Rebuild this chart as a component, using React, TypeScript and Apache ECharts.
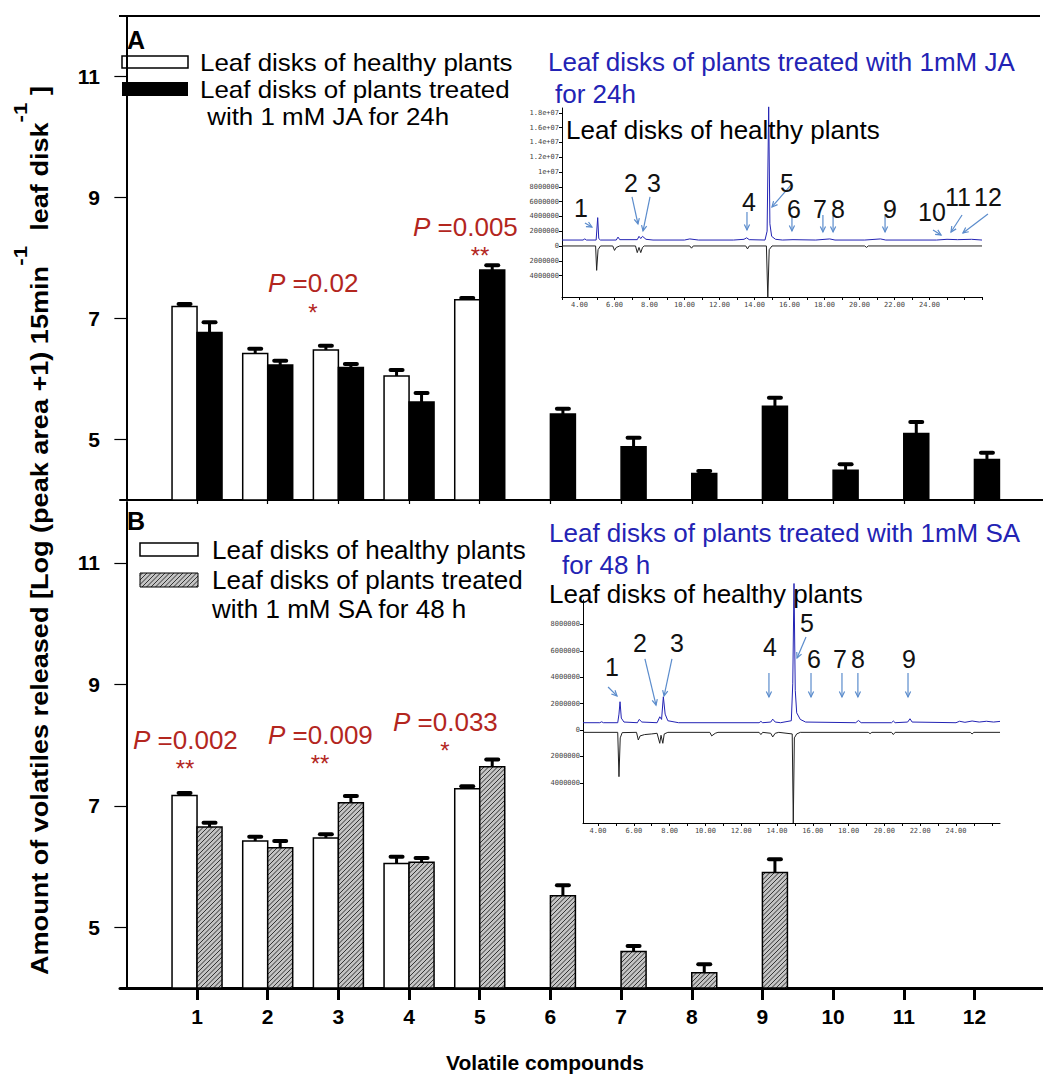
import React, { useEffect, useRef } from 'react';
import * as echarts from 'echarts';

// ---------- data ----------
const categories = [1, 2, 3, 4, 5, 6, 7, 8, 9, 10, 11, 12];
const yTickValues = [5, 7, 9, 11];

// Panel A (JA, 24h)
const jaHealthy = [7.2, 6.42, 6.48, 6.05, 7.31];
const jaHealthyErr = [0.04, 0.08, 0.07, 0.1, 0.03];
const jaTreated = [6.77, 6.23, 6.19, 5.62, 7.8, 5.42, 4.88, 4.44, 5.55, 4.49, 5.1, 4.67];
const jaTreatedErr = [0.17, 0.07, 0.06, 0.15, 0.08, 0.09, 0.15, 0.04, 0.14, 0.1, 0.19, 0.11];

// Panel B (SA, 48h)
const saHealthy = [7.17, 6.42, 6.47, 6.05, 7.28];
const saHealthyErr = [0.04, 0.07, 0.06, 0.11, 0.04];
const saTreated = [6.65, 6.31, 7.05, 6.07, 7.64, 5.52, 4.6, 4.25, 5.9];
const saTreatedErr = [0.07, 0.11, 0.11, 0.07, 0.12, 0.17, 0.09, 0.14, 0.22];

// Inset chromatograms (time in min, abundance in millions)
const jaChromTreated = [
  [3.0, 0.8], [4.2, 0.8], [4.3, 0.95], [4.4, 0.8], [4.95, 0.8], [5.04, 3.83], [5.1, 1.0], [5.2, 0.8],
  [6.1, 0.8], [6.2, 1.2], [6.3, 0.85], [7.3, 0.85], [7.4, 1.3], [7.5, 1.0], [7.6, 1.3], [7.8, 0.9],
  [8.2, 0.8], [10.0, 0.8], [10.3, 0.95], [10.8, 0.8], [12.8, 0.8], [13.4, 0.9], [13.55, 1.1], [13.7, 0.85],
  [14.6, 0.8], [14.72, 2.0], [14.81, 18.8], [14.88, 3.0], [14.98, 1.3], [15.2, 0.9], [15.6, 0.8],
  [16.2, 0.85], [17.5, 0.8], [18.3, 0.95], [18.6, 0.8], [20.3, 0.8], [21.2, 0.95], [21.5, 0.8],
  [24.4, 0.8], [25.0, 0.9], [25.6, 0.85], [26.4, 0.9], [27.0, 0.8],
];
const jaChromHealthy = [
  [3.0, 0], [4.92, 0], [4.98, -3.3], [5.06, -0.5], [5.2, 0], [5.9, 0], [6.0, -0.6], [6.1, -0.2], [6.3, 0],
  [7.2, 0], [7.3, -0.9], [7.4, -0.2], [7.5, -0.9], [7.6, -0.2], [7.7, 0], [10.3, 0], [10.4, -0.3], [10.5, 0],
  [13.5, 0], [13.6, -0.4], [13.7, 0], [14.68, 0], [14.76, -7.0], [14.84, -0.5], [15.0, 0],
  [20.3, 0], [20.4, -0.2], [20.5, 0], [27.0, 0],
];
const saChromTreated = [
  [3.16, 0.55], [4.1, 0.55], [4.2, 0.62], [4.3, 0.55], [5.1, 0.55], [5.17, 1.2], [5.23, 2.14], [5.3, 0.9],
  [5.45, 0.6], [6.2, 0.55], [6.3, 0.8], [6.45, 0.6], [7.3, 0.55], [7.45, 1.0], [7.55, 0.8], [7.65, 2.52],
  [7.75, 1.2], [7.9, 0.7], [8.3, 0.6], [8.5, 0.55], [13.0, 0.55], [13.1, 0.65], [13.2, 0.55], [13.65, 0.6],
  [13.76, 0.82], [13.9, 0.6], [14.2, 0.55], [14.8, 0.7], [14.88, 3.5], [14.95, 11.1], [15.02, 3.0],
  [15.1, 1.3], [15.3, 0.8], [15.6, 0.6], [18.4, 0.55], [18.55, 0.72], [18.7, 0.55], [20.4, 0.55],
  [20.5, 0.68], [20.6, 0.55], [21.3, 0.6], [21.43, 0.85], [21.55, 0.6], [24.0, 0.55], [24.2, 0.66],
  [24.5, 0.58], [24.9, 0.68], [25.3, 0.6], [25.7, 0.66], [26.1, 0.6], [26.46, 0.65],
];
const saChromHealthy = [
  [3.16, -0.18], [5.1, -0.18], [5.17, -3.54], [5.24, -0.6], [5.35, -0.2], [6.15, -0.18], [6.25, -0.76],
  [6.35, -0.45], [6.6, -0.35], [7.0, -0.3], [7.3, -0.25], [7.45, -1.01], [7.52, -0.4], [7.62, -1.01],
  [7.7, -0.3], [7.9, -0.18], [10.25, -0.18], [10.35, -0.45], [10.55, -0.25], [10.7, -0.18], [13.0, -0.18],
  [13.1, -0.35], [13.2, -0.18], [13.65, -0.25], [13.76, -0.53], [13.9, -0.25], [14.1, -0.18],
  [14.85, -0.3], [14.91, -7.05], [14.97, -0.6], [15.1, -0.3], [15.3, -0.18], [19.1, -0.18], [19.2, -0.28],
  [19.3, -0.18], [20.4, -0.18], [20.5, -0.35], [20.6, -0.18], [24.8, -0.18], [24.9, -0.3], [25.0, -0.18],
  [26.46, -0.18],
];

// peak annotations: label, label position, arrow start, arrow end (inset data coords)
const jaPeakLabels = ['1', '2', '3', '4', '5', '6', '7', '8', '9', '10', '11', '12'];
const jaPeakText = [[4.09, 5.13], [6.94, 8.51], [8.26, 8.51], [13.69, 5.94], [15.86, 8.51], [16.26, 5.0], [17.74, 5.0], [18.77, 5.0], [21.74, 5.0], [24.14, 4.59], [25.63, 6.62], [27.34, 6.62]];
const jaArrowFrom = [[4.31, 3.11], [7.0, 6.62], [8.03, 6.62], [13.57, 4.59], [16.14, 8.38], [16.14, 3.92], [17.91, 4.19], [18.49, 4.19], [21.46, 4.19], [24.2, 2.16], [25.86, 4.19], [27.34, 4.32]];
const jaArrowTo = [[4.71, 2.57], [7.34, 2.97], [7.63, 2.03], [13.57, 2.16], [15.0, 5.27], [16.14, 2.03], [17.91, 1.89], [18.49, 1.89], [21.46, 1.89], [24.66, 1.49], [25.23, 1.89], [25.91, 1.76]];

const saPeakLabels = ['1', '2', '3', '4', '5', '6', '7', '8', '9'];
const saPeakText = [[4.78, 4.77], [6.34, 6.59], [8.41, 6.59], [13.61, 6.29], [15.67, 8.11], [16.07, 5.38], [17.52, 5.38], [18.52, 5.38], [21.37, 5.38]];
const saArrowFrom = [[4.56, 3.26], [6.62, 5.38], [8.13, 5.38], [13.55, 4.32], [15.62, 7.05], [15.9, 4.32], [17.63, 4.32], [18.52, 4.32], [21.32, 4.32]];
const saArrowTo = [[5.06, 2.58], [7.24, 1.89], [7.69, 2.58], [13.55, 2.5], [15.12, 5.45], [15.9, 2.5], [17.63, 2.5], [18.52, 2.5], [21.32, 2.5]];

const insetXLabels = [4, 6, 8, 10, 12, 14, 16, 18, 20, 22, 24];
const jaInsetYLabels = [-4, -2, 0, 2, 4, 6, 8, 10, 12, 14, 16, 18];
const saInsetYLabels = [-4, -2, 0, 2, 4, 6, 8];
const insetMinorTicks = [3, 4, 5, 6, 7, 8, 9, 10, 11, 12, 13, 14, 15, 16, 17, 18, 19, 20, 21, 22, 23, 24, 25, 26, 27];

const yTitleParts = ['Amount of volatiles released [Log (peak area +1) 15min', '-1', '  leaf disk', '-1', ' ]'];

// ---------- styling constants ----------
const FONT = '"Liberation Sans", Arial, Helvetica, sans-serif';
const RED = '#b3261e';
const BLUE = '#2323b4';
const ARROW = '#5b8ccc';
const BAR_W = 25;
const X_MIN = -0.09;
const X_MAX = 12.97;
const Y_MIN = 4;
const Y_MAX = 12;
const TXT = 26;

function hatch(x0: number, y0: number, w: number, h: number, step: number) {
  const x1 = x0 + w;
  const y1 = y0 + h;
  const out: any[] = [];
  const start = Math.ceil((x0 + y0) / step) * step;
  for (let c = start; c < x1 + y1; c += step) {
    const xa = Math.max(x0, c - y1);
    const xb = Math.min(x1, c - y0);
    if (xb > xa) {
      out.push({ type: 'line', shape: { x1: xa, y1: c - xa, x2: xb, y2: c - xb }, style: { stroke: '#333', lineWidth: 1 } });
    }
  }
  return out;
}

function barRenderer(side: 'left' | 'right', kind: 'white' | 'black' | 'hatch') {
  return (params: any, api: any) => {
    const cat = api.value(0);
    const val = api.value(1);
    const err = api.value(2);
    const base = api.coord([cat, Y_MIN]);
    const top = api.coord([cat, val]);
    const cap = api.coord([cat, val + err]);
    const x0 = side === 'left' ? base[0] - BAR_W : base[0];
    const cx = x0 + BAR_W / 2;
    const h = base[1] - top[1];
    const children: any[] = [];
    children.push({ type: 'rect', shape: { x: x0, y: top[1], width: BAR_W, height: h }, style: { fill: kind === 'black' ? '#000' : kind === 'hatch' ? '#c4c4c4' : '#fff' } });
    if (kind === 'hatch') children.push(...hatch(x0, top[1], BAR_W, h, 4.5));
    children.push({ type: 'rect', shape: { x: x0, y: top[1], width: BAR_W, height: h }, style: { fill: 'none', stroke: '#000', lineWidth: 1.5 } });
    children.push({ type: 'line', shape: { x1: cx, y1: top[1], x2: cx, y2: cap[1] }, style: { stroke: '#000', lineWidth: 3 } });
    children.push({ type: 'line', shape: { x1: cx - 6, y1: cap[1], x2: cx + 6, y2: cap[1] }, style: { stroke: '#000', lineWidth: 4, lineCap: 'round' } });
    return { type: 'group', children };
  };
}

function annotRenderer(labels: string[]) {
  return (params: any, api: any) => {
    const t = api.coord([api.value(0), api.value(1)]);
    const a = api.coord([api.value(2), api.value(3)]);
    const b = api.coord([api.value(4), api.value(5)]);
    const dx = b[0] - a[0];
    const dy = b[1] - a[1];
    const len = Math.sqrt(dx * dx + dy * dy) || 1;
    const ux = dx / len;
    const uy = dy / len;
    const hl = 6;
    const ang = 0.45;
    const cos = Math.cos(ang);
    const sin = Math.sin(ang);
    const l1 = [b[0] - hl * (ux * cos - uy * sin), b[1] - hl * (uy * cos + ux * sin)];
    const l2 = [b[0] - hl * (ux * cos + uy * sin), b[1] - hl * (uy * cos - ux * sin)];
    return {
      type: 'group',
      children: [
        { type: 'line', shape: { x1: a[0], y1: a[1], x2: b[0], y2: b[1] }, style: { stroke: ARROW, lineWidth: 1.2 } },
        { type: 'polyline', shape: { points: [l1, b, l2] }, style: { stroke: ARROW, lineWidth: 1.2, fill: 'none' } },
        { type: 'text', x: t[0], y: t[1], style: { text: labels[params.dataIndex], fill: '#111', fontSize: 25, fontFamily: FONT, align: 'center', verticalAlign: 'middle' } },
      ],
    };
  };
}

function insetYFormatter(v: number) {
  const a = Math.abs(Math.round(v * 1e6));
  if (a >= 1e7) {
    const m = a / 1e7;
    return (Number.isInteger(m) ? m.toFixed(0) : m.toFixed(1)) + 'e+07';
  }
  return String(a);
}

function pText(x: number, y: number, value: string) {
  return {
    type: 'text', x, y, z: 10,
    style: {
      text: '{i|P}{r| =' + value + '}',
      verticalAlign: 'middle',
      rich: {
        i: { fontStyle: 'italic', fontSize: TXT, fill: RED, color: RED, fontFamily: FONT },
        r: { fontSize: TXT, fill: RED, color: RED, fontFamily: FONT },
      },
    },
  };
}
function star(x: number, y: number, s: string) {
  return { type: 'text', x, y, z: 10, style: { text: s, fill: RED, fontSize: 24, fontFamily: FONT, align: 'center', verticalAlign: 'middle' } };
}
function plainText(x: number, y: number, s: string, size: number, color: string, extra: any = {}, el: any = {}) {
  return { type: 'text', x, y, z: 10, ...el, style: { text: s, fill: color, fontSize: size, fontFamily: FONT, verticalAlign: 'middle', ...extra } };
}

function mainXAxis(gridIndex: number, bottomPanel: boolean) {
  return {
    type: 'value', gridIndex, min: X_MIN, max: X_MAX,
    axisLine: { show: true, onZero: false, lineStyle: { color: '#000', width: bottomPanel ? 3 : 2 } },
    axisTick: { show: true, customValues: categories, length: bottomPanel ? 12 : 4, lineStyle: { color: '#000', width: bottomPanel ? 3 : 1.2 } },
    axisLabel: bottomPanel
      ? { show: true, customValues: categories, fontSize: 21, fontWeight: 'bold', color: '#000', fontFamily: FONT, margin: 18 }
      : { show: false },
    splitLine: { show: false },
  };
}
function mainYAxis(gridIndex: number) {
  return {
    type: 'value', gridIndex, min: Y_MIN, max: Y_MAX,
    axisLine: { show: true, lineStyle: { color: '#000', width: 2 } },
    axisTick: { show: true, customValues: yTickValues, length: 12, lineStyle: { color: '#000', width: 1.2 } },
    axisLabel: { show: true, customValues: yTickValues, fontSize: 21, fontWeight: 'bold', color: '#000', fontFamily: FONT, margin: 20 },
    splitLine: { show: false },
  };
}
function insetXAxis(gridIndex: number, min: number, max: number) {
  return {
    type: 'value', gridIndex, min, max,
    axisLine: { show: true, onZero: false, lineStyle: { color: '#000', width: 1 } },
    axisTick: { show: true, customValues: insetMinorTicks.filter((v) => v >= min && v <= max), length: 3, lineStyle: { color: '#000', width: 1 } },
    axisLabel: { show: true, customValues: insetXLabels, formatter: (v: number) => v.toFixed(2), fontSize: 7, color: '#444', fontFamily: '"DejaVu Sans Mono", monospace', margin: 4 },
    splitLine: { show: false },
  };
}
function insetYAxis(gridIndex: number, min: number, max: number, labels: number[]) {
  return {
    type: 'value', gridIndex, min, max,
    axisLine: { show: true, onZero: false, lineStyle: { color: '#000', width: 1 } },
    axisTick: { show: true, customValues: labels, length: 3, lineStyle: { color: '#000', width: 1 } },
    axisLabel: { show: true, customValues: labels, formatter: insetYFormatter, fontSize: 7, color: '#444', fontFamily: '"DejaVu Sans Mono", monospace', margin: 3 },
    splitLine: { show: false },
  };
}

function toBarData(vals: number[], errs: number[]) {
  return vals.map((v, i) => [categories[i], v, errs[i]]);
}
function toAnnotData(text: number[][], from: number[][], to: number[][]) {
  return text.map((t, i) => [t[0], t[1], from[i][0], from[i][1], to[i][0], to[i][1]]);
}

function yTitleGraphics() {
  const mainSize = 23;
  const supSize = 19;
  const ctx = document.createElement('canvas').getContext('2d') as CanvasRenderingContext2D;
  const widths = yTitleParts.map((p, i) => {
    ctx.font = 'bold ' + (i % 2 === 1 ? supSize : mainSize) + 'px "Liberation Sans", Arial, sans-serif';
    return ctx.measureText(p).width;
  });
  const total = widths.reduce((a, b) => a + b, 0);
  const yStart = 975;
  const yEnd = 86;
  const k = (yStart - yEnd) / total;
  const out: any[] = [];
  let y = yStart;
  yTitleParts.forEach((p, i) => {
    const sup = i % 2 === 1;
    out.push({
      type: 'text', x: sup ? 20 : 40, y, rotation: Math.PI / 2, scaleX: k, z: 10,
      style: { text: p, fill: '#000', fontSize: sup ? supSize : mainSize, fontWeight: 'bold', fontFamily: FONT, align: 'left', verticalAlign: 'middle' },
    });
    y -= widths[i] * k;
  });
  return out;
}

export default function App() {
  const ref = useRef<HTMLDivElement>(null);
  useEffect(() => {
    if (!ref.current) return;
    const chart = echarts.init(ref.current, undefined, { renderer: 'svg' });

    const legendBoxes: any[] = [
      // Panel A legend
      { type: 'rect', shape: { x: 122, y: 56, width: 66, height: 12 }, style: { fill: '#fff', stroke: '#000', lineWidth: 1.5 } },
      { type: 'rect', shape: { x: 122, y: 82, width: 66, height: 14 }, style: { fill: '#000' } },
      // Panel B legend
      { type: 'rect', shape: { x: 140, y: 543, width: 58, height: 13 }, style: { fill: '#fff', stroke: '#000', lineWidth: 1.5 } },
      { type: 'rect', shape: { x: 140, y: 573, width: 58, height: 14 }, style: { fill: '#c4c4c4' } },
      ...hatch(140, 573, 58, 14, 4.5),
      { type: 'rect', shape: { x: 140, y: 573, width: 58, height: 14 }, style: { fill: 'none', stroke: '#000', lineWidth: 1 } },
    ];
    const legA = { scaleX: 1.08 };

    const option: any = {
      animation: false,
      backgroundColor: '#fff',
      grid: [
        { left: 120, top: 16, width: 923, height: 484 },
        { left: 120, top: 502, width: 923, height: 486 },
        { left: 562, top: 108, width: 420, height: 189 },
        { left: 583, top: 600, width: 417, height: 223 },
      ],
      xAxis: [
        mainXAxis(0, false),
        mainXAxis(1, true),
        insetXAxis(2, 3, 27),
        insetXAxis(3, 3.16, 26.46),
      ],
      yAxis: [
        mainYAxis(0),
        mainYAxis(1),
        insetYAxis(2, -6.9, 18.65, jaInsetYLabels),
        insetYAxis(3, -7.05, 9.85, saInsetYLabels),
      ],
      series: [
        { type: 'custom', name: 'JA healthy', xAxisIndex: 0, yAxisIndex: 0, renderItem: barRenderer('left', 'white'), data: toBarData(jaHealthy, jaHealthyErr), encode: { x: 0, y: 1 } },
        { type: 'custom', name: 'JA treated', xAxisIndex: 0, yAxisIndex: 0, renderItem: barRenderer('right', 'black'), data: toBarData(jaTreated, jaTreatedErr), encode: { x: 0, y: 1 } },
        { type: 'custom', name: 'SA healthy', xAxisIndex: 1, yAxisIndex: 1, renderItem: barRenderer('left', 'white'), data: toBarData(saHealthy, saHealthyErr), encode: { x: 0, y: 1 } },
        { type: 'custom', name: 'SA treated', xAxisIndex: 1, yAxisIndex: 1, renderItem: barRenderer('right', 'hatch'), data: toBarData(saTreated, saTreatedErr), encode: { x: 0, y: 1 } },
        { type: 'line', xAxisIndex: 2, yAxisIndex: 2, data: jaChromTreated, showSymbol: false, clip: false, lineStyle: { color: BLUE, width: 1 }, z: 3 },
        { type: 'line', xAxisIndex: 2, yAxisIndex: 2, data: jaChromHealthy, showSymbol: false, clip: false, lineStyle: { color: '#222', width: 1 }, z: 3 },
        { type: 'line', xAxisIndex: 3, yAxisIndex: 3, data: saChromTreated, showSymbol: false, clip: false, lineStyle: { color: BLUE, width: 1 }, z: 3 },
        { type: 'line', xAxisIndex: 3, yAxisIndex: 3, data: saChromHealthy, showSymbol: false, clip: false, lineStyle: { color: '#222', width: 1 }, z: 3 },
        { type: 'custom', xAxisIndex: 2, yAxisIndex: 2, clip: false, renderItem: annotRenderer(jaPeakLabels), data: toAnnotData(jaPeakText, jaArrowFrom, jaArrowTo), encode: { x: 0, y: 1 }, z: 4 },
        { type: 'custom', xAxisIndex: 3, yAxisIndex: 3, clip: false, renderItem: annotRenderer(saPeakLabels), data: toAnnotData(saPeakText, saArrowFrom, saArrowTo), encode: { x: 0, y: 1 }, z: 4 },
      ],
      graphic: [
        { type: 'line', shape: { x1: 119, y1: 16, x2: 1040, y2: 16 }, style: { stroke: '#000', lineWidth: 2 } },
        ...legendBoxes,
        plainText(127, 40, 'A', 25, '#000', { fontWeight: 'bold' }),
        plainText(127, 521, 'B', 25, '#000', { fontWeight: 'bold' }),
        plainText(200, 62, 'Leaf disks of healthy plants', 24, '#000', {}, legA),
        plainText(200, 89, 'Leaf disks of plants treated', 24, '#000', {}, legA),
        plainText(200, 116, ' with 1 mM JA for 24h', 24, '#000', {}, legA),
        plainText(212, 550, 'Leaf disks of healthy plants', TXT, '#000'),
        plainText(212, 580, 'Leaf disks of plants treated', TXT, '#000'),
        plainText(212, 609, 'with 1 mM SA for 48 h', TXT, '#000'),
        plainText(548, 62, 'Leaf disks of plants treated with 1mM JA', TXT, BLUE),
        plainText(555, 94, 'for 24h', TXT, BLUE),
        plainText(566, 130, 'Leaf disks of healthy plants', TXT, '#000'),
        plainText(549, 533, 'Leaf disks of plants treated with 1mM SA', TXT, BLUE),
        plainText(562, 565, 'for 48 h', TXT, BLUE),
        plainText(549, 594, 'Leaf disks of healthy plants', TXT, '#000'),
        pText(268, 283, '0.02'),
        star(313, 312, '*'),
        pText(413, 227, '0.005'),
        star(480, 255, '**'),
        pText(133, 740, '0.002'),
        star(185, 768, '**'),
        pText(268, 735, '0.009'),
        star(320, 763, '**'),
        pText(393, 722, '0.033'),
        star(445, 750, '*'),
        ...yTitleGraphics(),
        { type: 'text', x: 545, y: 1062, z: 10, style: { text: 'Volatile compounds', fill: '#000', fontSize: 21, fontWeight: 'bold', fontFamily: FONT, align: 'center', verticalAlign: 'middle' } },
      ],
    };
    chart.setOption(option);
    return () => chart.dispose();
  }, []);
  return <div ref={ref} style={{ position: 'absolute', left: 0, top: 0, width: 1043, height: 1079, background: '#fff' }} />;
}
